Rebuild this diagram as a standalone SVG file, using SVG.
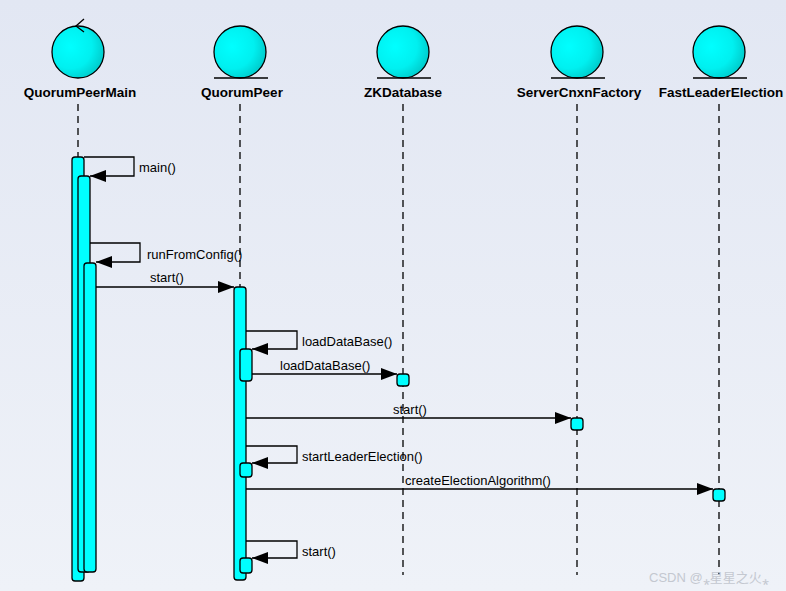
<svg xmlns="http://www.w3.org/2000/svg" width="786" height="591" viewBox="0 0 786 591">
<defs>
<linearGradient id="bg" x1="0" y1="0" x2="0" y2="1"><stop offset="0" stop-color="#e2e7f3"/><stop offset="1" stop-color="#eff2f8"/></linearGradient>
<radialGradient id="ball" cx="0.35" cy="0.4" r="0.7"><stop offset="0" stop-color="#00ffff"/><stop offset="0.6" stop-color="#00f0f0"/><stop offset="1" stop-color="#00c8c8"/></radialGradient>
<marker id="ah" markerWidth="16" markerHeight="12" refX="16" refY="6" orient="auto" markerUnits="userSpaceOnUse"><path d="M0,0 L16,6 L0,12 Z" fill="#000"/></marker>
</defs>
<style>
.lbl{font-family:"Liberation Sans",Arial,sans-serif;font-size:13.5px;font-weight:bold;fill:#000;text-anchor:middle}
.msg{font-family:"Liberation Sans",Arial,sans-serif;font-size:13px;fill:#000}
.life{stroke:#000;stroke-dasharray:7,5;stroke-width:1.3;fill:none}
.act{fill:#00ffff;stroke:#000;stroke-width:1.3}
.ln{stroke:#000;stroke-width:1.3;fill:none}
.obj{fill:url(#ball);stroke:#000;stroke-width:1.3}
</style>
<rect width="786" height="591" fill="url(#bg)"/>
<g id="QuorumPeerMain">
<circle class="obj" cx="78" cy="52" r="26"/>
<path class="ln" d="M84,19 L76,26 L84,32"/>
<text class="lbl" x="80" y="97">QuorumPeerMain</text>
<line class="life" x1="78" y1="104" x2="78" y2="157"/>
<rect class="act" x="72" y="157" width="12" height="424" rx="3"/>
<rect class="act" x="78" y="176" width="12" height="396" rx="3"/>
<rect class="act" x="84" y="263" width="12" height="309" rx="3"/>
</g>
<g id="QuorumPeer">
<circle class="obj" cx="240" cy="52" r="26"/>
<line class="ln" x1="214" y1="78" x2="268" y2="78"/>
<text class="lbl" x="242" y="97">QuorumPeer</text>
<line class="life" x1="240" y1="104" x2="240" y2="287"/>
<rect class="act" x="234" y="287" width="12" height="293" rx="3"/>
<rect class="act" x="240" y="349" width="12" height="32" rx="3"/>
<rect class="act" x="240" y="463" width="12" height="14" rx="3"/>
<rect class="act" x="240" y="558" width="12" height="15" rx="3"/>
</g>
<g id="ZKDatabase">
<circle class="obj" cx="403" cy="52" r="26"/>
<line class="ln" x1="377" y1="78" x2="431" y2="78"/>
<text class="lbl" x="403" y="97">ZKDatabase</text>
<line class="life" x1="403" y1="104" x2="403" y2="575"/>
<rect class="act" x="397" y="374" width="12" height="12" rx="3"/>
</g>
<g id="ServerCnxnFactory">
<circle class="obj" cx="577" cy="52" r="26"/>
<line class="ln" x1="551" y1="78" x2="605" y2="78"/>
<text class="lbl" x="579" y="97">ServerCnxnFactory</text>
<line class="life" x1="577" y1="104" x2="577" y2="575"/>
<rect class="act" x="571" y="418" width="12" height="12" rx="3"/>
</g>
<g id="FastLeaderElection">
<circle class="obj" cx="719" cy="52" r="26"/>
<line class="ln" x1="693" y1="78" x2="747" y2="78"/>
<text class="lbl" x="721" y="97">FastLeaderElection</text>
<line class="life" x1="719" y1="104" x2="719" y2="575"/>
<rect class="act" x="713" y="489" width="12" height="12" rx="3"/>
</g>
<g id="connectors">
<path class="ln" d="M84,157 H134 V176 H90" marker-end="url(#ah)"/>
<text class="msg" x="139" y="172">main()</text>
<path class="ln" d="M90,243 H140 V262 H96" marker-end="url(#ah)"/>
<text class="msg" x="147" y="259">runFromConfig()</text>
<path class="ln" d="M96,287 H234" marker-end="url(#ah)"/>
<text class="msg" x="150" y="282">start()</text>
<path class="ln" d="M246,331 H297 V349 H252" marker-end="url(#ah)"/>
<text class="msg" x="302" y="346">loadDataBase()</text>
<path class="ln" d="M252,374 H397" marker-end="url(#ah)"/>
<text class="msg" x="280" y="370">loadDataBase()</text>
<path class="ln" d="M246,418 H571" marker-end="url(#ah)"/>
<text class="msg" x="393" y="414">start()</text>
<path class="ln" d="M246,446 H297 V463 H252" marker-end="url(#ah)"/>
<text class="msg" x="302" y="461">startLeaderElection()</text>
<path class="ln" d="M246,489 H713" marker-end="url(#ah)"/>
<text class="msg" x="405" y="485">createElectionAlgorithm()</text>
<path class="ln" d="M246,541 H297 V558 H252" marker-end="url(#ah)"/>
<text class="msg" x="302" y="556">start()</text>
</g>
<text x="649" y="582" font-family="'Liberation Sans','Noto Sans CJK SC',sans-serif" font-size="13" fill="#c4c8d0">CSDN @⁎星星之火⁎</text>
</svg>
